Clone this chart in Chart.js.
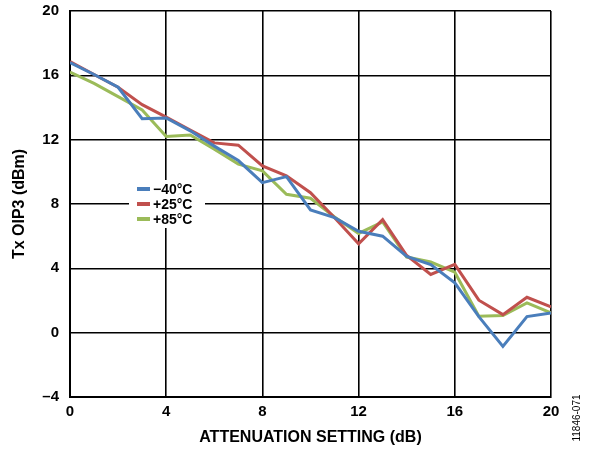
<!DOCTYPE html>
<html>
<head>
<meta charset="utf-8">
<script src="https://cdn.jsdelivr.net/npm/chart.js@4/dist/chart.umd.min.js"></script>
<style>
  html, body { margin: 0; padding: 0; background: #fff; }
  #wrap { width: 592px; height: 450px; position: relative; }
</style>
</head>
<body>
<div id="wrap"><canvas id="oip3Chart"></canvas></div>
<script>
const attenuation = [0, 1, 2, 3, 4, 5, 6, 7, 8, 9, 10, 11, 12, 13, 14, 15, 16, 17, 18, 19, 20];
const tempLabels = ["\u221240\u00B0C", "+25\u00B0C", "+85\u00B0C"];
const oip3Cold = [16.8, 16.05, 15.26, 13.3, 13.35, 12.55, 11.6, 10.7, 9.33, 9.7, 7.63, 7.15, 6.3, 6.0, 4.74, 4.24, 3.1, 1.0, -0.85, 1.0, 1.23];
const oip3Room = [16.85, 16.05, 15.26, 14.18, 13.4, 12.6, 11.8, 11.66, 10.37, 9.75, 8.7, 7.15, 5.53, 7.03, 4.8, 3.62, 4.24, 2.02, 1.12, 2.2, 1.6];
const oip3Hot = [16.2, 15.5, 14.68, 13.85, 12.2, 12.29, 11.41, 10.48, 10.06, 8.6, 8.36, 7.19, 6.17, 6.88, 4.7, 4.39, 3.76, 1.02, 1.06, 1.85, 1.23];
const xTicks = [0, 4, 8, 12, 16, 20];
const yTicks = [-4, 0, 4, 8, 12, 16, 20];
const lineColors = ["#4a7ebb", "#c0504d", "#9bbb59"];

const FONT = "'Liberation Sans', Arial, sans-serif";

function toPoints(vals) {
    return vals.map((v, i) => ({ x: attenuation[i], y: v }));
}

// legend box sitting over the grid, plus the figure number at the right edge
const extras = {
    id: "extras",
    afterDraw(chart) {
        const ctx = chart.ctx;
        const area = chart.chartArea;
        const lx = area.left + 59, ly = area.top + 169;
        ctx.save();
        ctx.fillStyle = "#fff";
        ctx.fillRect(lx, ly, 76, 48);
        chart.data.datasets.forEach((ds, i) => {
            const y = ly + 9 + i * 15;
            ctx.strokeStyle = ds.borderColor;
            ctx.lineWidth = 4;
            ctx.beginPath();
            ctx.moveTo(lx + 8, y);
            ctx.lineTo(lx + 21, y);
            ctx.stroke();
            ctx.fillStyle = "#000";
            ctx.font = "bold 14px " + FONT;
            ctx.textBaseline = "middle";
            ctx.fillText(ds.label, lx + 24, y + 1);
        });
        ctx.translate(577, 418);
        ctx.rotate(-Math.PI / 2);
        ctx.font = "10px " + FONT;
        ctx.fillStyle = "#000";
        ctx.textAlign = "center";
        ctx.textBaseline = "middle";
        ctx.fillText("11846-071", 0, 0);
        ctx.restore();
    }
};

new Chart(document.getElementById("oip3Chart"), {
    type: "line",
    data: {
        datasets: [
            { label: tempLabels[0], data: toPoints(oip3Cold), borderColor: lineColors[0] },
            { label: tempLabels[1], data: toPoints(oip3Room), borderColor: lineColors[1] },
            { label: tempLabels[2], data: toPoints(oip3Hot), borderColor: lineColors[2] }
        ].map(d => Object.assign(d, { borderWidth: 3, pointRadius: 0, tension: 0, fill: false }))
    },
    options: {
        responsive: true,
        maintainAspectRatio: false,
        animation: false,
        layout: { padding: { top: 11, right: 41, left: 0, bottom: 0 } },
        plugins: { legend: { display: false }, tooltip: { enabled: false } },
        scales: {
            x: {
                type: "linear",
                min: 0, max: 20,
                afterBuildTicks: s => { s.ticks = xTicks.map(v => ({ value: v })); },
                afterFit: s => { s.height = 53; s.paddingLeft = 0; s.paddingRight = 0; },
                grid: { color: "#000", lineWidth: 1.6, drawTicks: false },
                border: { color: "#000", width: 2 },
                ticks: { color: "#000", padding: 6, font: { family: FONT, size: 15, weight: "bold" } },
                title: { display: true, text: "ATTENUATION SETTING (dB)", color: "#000",
                         padding: { top: 4, bottom: 3 }, font: { family: FONT, size: 16, weight: "bold" } }
            },
            y: {
                min: -4, max: 20,
                afterBuildTicks: s => { s.ticks = yTicks.map(v => ({ value: v })); },
                afterFit: s => { s.width = 70; s.paddingTop = 0; s.paddingBottom = 0; },
                grid: { color: "#000", lineWidth: 1.6, drawTicks: false },
                border: { color: "#000", width: 2 },
                ticks: { color: "#000", padding: 11,
                         callback: v => String(v).replace("-", "\u2013"),
                         font: { family: FONT, size: 15, weight: "bold" } },
                title: { display: true, text: "Tx OIP3 (dBm)", color: "#000",
                         padding: { top: 10, bottom: 4 }, font: { family: FONT, size: 16, weight: "bold" } }
            }
        }
    },
    plugins: [extras]
});
</script>
</body>
</html>
